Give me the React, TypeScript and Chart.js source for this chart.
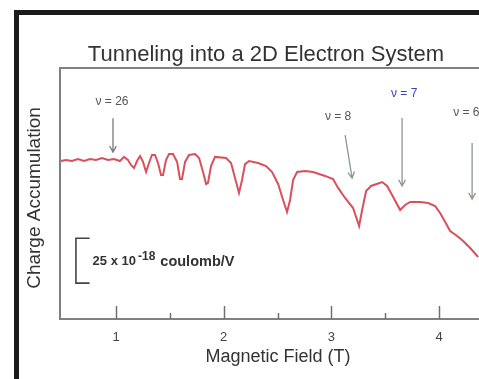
import React, { useEffect, useRef } from 'react';
import { Chart, registerables } from 'chart.js';

Chart.register(...registerables);

// Magnetic field (T)
const fieldT = [
  0.489, 0.536, 0.591, 0.647, 0.703, 0.759, 0.814, 0.870, 0.926, 0.981,
  1.037, 1.074, 1.111, 1.139, 1.167, 1.195, 1.223, 1.251, 1.279, 1.306,
  1.334, 1.362, 1.390, 1.418, 1.437, 1.464, 1.492, 1.529, 1.567, 1.594,
  1.613, 1.641, 1.678, 1.734, 1.771, 1.808, 1.836, 1.854, 1.882, 1.919,
  2.022, 2.068, 2.105, 2.142, 2.170, 2.198, 2.235, 2.319, 2.393, 2.449,
  2.505, 2.551, 2.588, 2.616, 2.644, 2.681, 2.755, 2.830, 2.941, 3.015,
  3.062, 3.127, 3.201, 3.257, 3.285, 3.322, 3.368, 3.471, 3.517, 3.573,
  3.638, 3.684, 3.731, 3.823, 3.898, 3.963, 4.009, 4.056, 4.102, 4.167,
  4.223, 4.288, 4.362,
];

// Charge accumulation (units of 10^-18 coulomb/V, arbitrary offset)
const charge = [
  88.1, 88.7, 88.1, 89.2, 88.1, 89.2, 88.7, 89.8, 88.7, 89.2,
  88.1, 90.4, 88.7, 85.9, 84.2, 88.1, 90.9, 87.6, 82.0, 87.0,
  91.5, 91.5, 87.0, 80.3, 80.3, 88.7, 92.0, 92.0, 87.6, 78.1,
  78.1, 87.6, 91.5, 92.0, 89.8, 82.0, 75.3, 75.9, 85.3, 90.4,
  89.8, 87.0, 78.6, 70.3, 77.5, 86.4, 88.1, 87.0, 85.3, 82.0,
  75.3, 66.4, 59.7, 66.4, 77.5, 82.0, 82.5, 82.0, 79.8, 78.1,
  73.1, 67.5, 61.9, 51.9, 60.8, 71.4, 74.2, 76.4, 74.2, 68.0,
  60.8, 63.6, 65.3, 65.3, 64.7, 63.0, 59.1, 54.1, 49.1, 46.3,
  43.5, 39.6, 34.6,
];

const xTickValues = [1, 1.5, 2, 2.5, 3, 3.5, 4];
const xRange = [0.48, 4.37];
const yRange = [0, 140];

// Filling-factor annotations
const nuLabels = ['ν = 26', 'ν = 8', 'ν = 7', 'ν = 6'];
const nuLabelField = [0.963, 3.062, 3.675, 4.13];
const nuLabelLevel = [121, 112.7, 125.5, 114.9];
const nuArrowFromField = [0.972, 3.127, 3.656, 4.306];
const nuArrowFromLevel = [112, 102.6, 112.1, 98.2];
const nuArrowToField = [0.972, 3.192, 3.656, 4.306];
const nuArrowToLevel = [93.1, 78.6, 74.2, 66.9];
const nuLabelColors = ['#555555', '#555555', '#3c3cc8', '#555555'];
const nuArrowColors = ['#7a7a7a', '#8a9a8e', '#8a9a8e', '#8a9a8e'];

// Scale bar: 25 x 10^-18 coulomb/V
const scaleBarField = [0.628, 0.755];
const scaleBarLevel = [45, 20];

const TITLE = 'Tunneling into a 2D Electron System';
const Y_TITLE = 'Charge Accumulation';
const X_TITLE = 'Magnetic Field (T)';
const FONT = '"Liberation Sans", Arial, sans-serif';

const decorPlugin = {
  id: 'decor',
  beforeDraw(chart: any) {
    const ctx = chart.ctx;
    ctx.save();
    ctx.fillStyle = '#ffffff';
    ctx.fillRect(0, 0, chart.width, chart.height);
    ctx.fillStyle = '#1b1b1b';
    ctx.fillRect(14, 10, chart.width - 14, 5);
    ctx.fillRect(14, 10, 5, chart.height - 10);

    ctx.fillStyle = '#333333';
    ctx.textAlign = 'center';
    ctx.textBaseline = 'middle';
    ctx.font = `22px ${FONT}`;
    ctx.fillText(TITLE, 266, 55);
    ctx.font = `18px ${FONT}`;
    ctx.fillText(X_TITLE, 278, 357);
    ctx.save();
    ctx.translate(35, 198);
    ctx.rotate(-Math.PI / 2);
    ctx.font = `19px ${FONT}`;
    ctx.fillText(Y_TITLE, 0, 0);
    ctx.restore();

    // frame
    const a = chart.chartArea;
    ctx.strokeStyle = '#808080';
    ctx.lineWidth = 2;
    ctx.beginPath();
    ctx.moveTo(a.right, a.top);
    ctx.lineTo(a.left, a.top);
    ctx.lineTo(a.left, a.bottom);
    ctx.lineTo(a.right, a.bottom);
    ctx.stroke();

    // inward tick marks
    const xs = chart.scales.x;
    ctx.lineWidth = 1.5;
    ctx.strokeStyle = '#707070';
    xTickValues.forEach((v) => {
      const px = Math.round(xs.getPixelForValue(v)) + 0.5;
      const len = Number.isInteger(v) ? 13 : 6;
      ctx.beginPath();
      ctx.moveTo(px, a.bottom);
      ctx.lineTo(px, a.bottom - len);
      ctx.stroke();
    });
    ctx.restore();
  },
  afterDatasetsDraw(chart: any) {
    const ctx = chart.ctx;
    const xs = chart.scales.x;
    const ys = chart.scales.y;
    ctx.save();
    nuLabels.forEach((lab, i) => {
      ctx.font = `12px ${FONT}`;
      ctx.fillStyle = nuLabelColors[i];
      ctx.textBaseline = 'middle';
      ctx.textAlign = i === 3 ? 'left' : 'center';
      ctx.fillText(lab, xs.getPixelForValue(nuLabelField[i]), ys.getPixelForValue(nuLabelLevel[i]));
      const x1 = xs.getPixelForValue(nuArrowFromField[i]);
      const y1 = ys.getPixelForValue(nuArrowFromLevel[i]);
      const x2 = xs.getPixelForValue(nuArrowToField[i]);
      const y2 = ys.getPixelForValue(nuArrowToLevel[i]);
      ctx.strokeStyle = nuArrowColors[i];
      ctx.lineWidth = 1.3;
      ctx.beginPath();
      ctx.moveTo(x1, y1);
      ctx.lineTo(x2, y2);
      const ang = Math.atan2(y2 - y1, x2 - x1);
      const h = 7;
      ctx.moveTo(x2 - h * Math.cos(ang - 0.5), y2 - h * Math.sin(ang - 0.5));
      ctx.lineTo(x2, y2);
      ctx.lineTo(x2 - h * Math.cos(ang + 0.5), y2 - h * Math.sin(ang + 0.5));
      ctx.stroke();
    });

    // scale bar bracket
    const bx0 = xs.getPixelForValue(scaleBarField[0]);
    const bx1 = xs.getPixelForValue(scaleBarField[1]);
    const by0 = ys.getPixelForValue(scaleBarLevel[0]);
    const by1 = ys.getPixelForValue(scaleBarLevel[1]);
    ctx.strokeStyle = '#444444';
    ctx.lineWidth = 1.6;
    ctx.beginPath();
    ctx.moveTo(bx1, by0);
    ctx.lineTo(bx0, by0);
    ctx.lineTo(bx0, by1);
    ctx.lineTo(bx1, by1);
    ctx.stroke();

    let tx = bx1 + 3;
    const ty = (by0 + by1) / 2 + 1;
    ctx.fillStyle = '#333333';
    ctx.textAlign = 'left';
    ctx.textBaseline = 'middle';
    ctx.font = `bold 13px ${FONT}`;
    ctx.fillText('25 x 10', tx, ty);
    tx += ctx.measureText('25 x 10').width + 2;
    ctx.font = `bold 12px ${FONT}`;
    ctx.fillText('-18', tx, ty - 5);
    tx += ctx.measureText('-18').width + 5;
    ctx.font = `bold 14.5px ${FONT}`;
    ctx.fillText('coulomb/V', tx, ty);
    ctx.restore();
  },
};

export default function App() {
  const ref = useRef<HTMLCanvasElement>(null);
  useEffect(() => {
    if (!ref.current) return;
    const chart = new Chart(ref.current, {
      type: 'line',
      data: {
        datasets: [
          {
            label: 'Charge Accumulation',
            data: fieldT.map((x, i) => ({ x, y: charge[i] })),
            borderColor: '#d9505c',
            borderWidth: 2,
            pointRadius: 0,
            tension: 0,
            fill: false,
          },
        ],
      },
      options: {
        responsive: false,
        animation: false,
        devicePixelRatio: 1,
        layout: { padding: { left: 60, top: 68, right: 0, bottom: 22.4 } },
        plugins: {
          legend: { display: false },
          title: { display: false },
          tooltip: { enabled: false },
        },
        scales: {
          x: {
            type: 'linear',
            min: xRange[0],
            max: xRange[1],
            grid: { display: false, drawTicks: false },
            border: { display: false },
            afterBuildTicks: (axis: any) => {
              axis.ticks = xTickValues.map((v) => ({ value: v }));
            },
            ticks: {
              autoSkip: false,
              maxRotation: 0,
              padding: 11,
              color: '#444444',
              font: { size: 13, family: FONT },
              callback: (v: any) => (Number.isInteger(v) ? String(v) : ''),
            },
          },
          y: { display: false, min: yRange[0], max: yRange[1] },
        },
      },
      plugins: [decorPlugin],
    } as any);
    return () => chart.destroy();
  }, []);
  return (
    <div style={{ position: 'absolute', left: 0, top: 0, width: 479, height: 379, background: '#fff' }}>
      <canvas ref={ref} width={479} height={379} style={{ width: 479, height: 379, display: 'block' }} />
    </div>
  );
}
